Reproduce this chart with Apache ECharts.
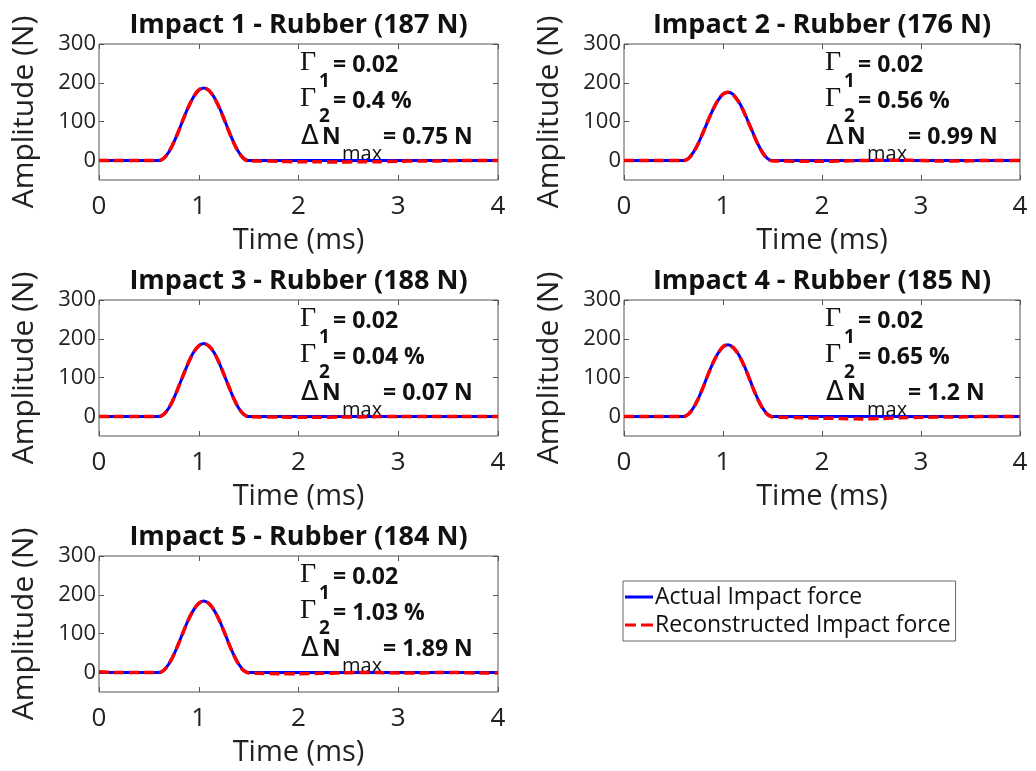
<!DOCTYPE html>
<html>
<head>
<meta charset="utf-8">
<title>Impact force reconstruction - Rubber</title>
<script src="https://cdn.jsdelivr.net/npm/echarts@6/dist/echarts.min.js"></script>
<style>
  html, body { margin: 0; padding: 0; background: #fff; }
  #Chart { width: 1036px; height: 771px; }
</style>
</head>
<body>
<div id="Chart"></div>
<script>
// time axis (ms)
var time = [0, 0.2, 0.4, 0.6, 0.65, 0.7, 0.75, 0.8, 0.85, 0.9, 0.95, 1.0, 1.05, 1.1, 1.15, 1.2, 1.25, 1.3, 1.35, 1.4, 1.45, 1.5,
            1.6, 1.8, 2.0, 2.2, 2.4, 2.6, 2.8, 3.0, 3.2, 3.4, 3.6, 3.8, 4.0];

// amplitudes (N)
var actual1 = [0, 0, 0, 0, 6, 22, 47, 77, 110, 140, 165, 181, 187, 181, 165, 140, 110, 77, 47, 22, 6, 0, 0, 0, 0, 0, 0, 0, 0, 0, 0, 0, 0, 0, 0];
var recon1  = [0, 0, 0, 0, 6, 22, 47, 77, 110, 140, 165, 182, 187, 181, 164, 139, 109, 76, 46, 21, 5, -1, -1, -2, -3, -3, -4, -3, -3, -2, -1, -1, 0, 0, 0];
var actual2 = [0, 0, 0, 0, 5, 21, 44, 73, 103, 132, 155, 171, 176, 171, 155, 132, 103, 73, 44, 21, 5, 0, 0, 0, 0, 0, 0, 0, 0, 0, 0, 0, 0, 0, 0];
var recon2  = [0, 0, 0, 0, 5, 21, 44, 73, 104, 132, 156, 171, 176, 170, 154, 131, 102, 72, 43, 20, 4, -1, -1, -2, -2, -1, 0, 1, 1, 0, -1, -1, 0, 0, 0];
var actual3 = [0, 0, 0, 0, 6, 22, 47, 78, 110, 141, 166, 182, 188, 182, 166, 141, 110, 78, 47, 22, 6, 0, 0, 0, 0, 0, 0, 0, 0, 0, 0, 0, 0, 0, 0];
var recon3  = [0, 0, 0, 0, 6, 22, 47, 78, 110, 141, 166, 182, 188, 182, 166, 141, 110, 78, 47, 22, 6, 0, -1, -1, -2, -2, -1, -1, 0, 0, 0, 0, 0, 0, 0];
var actual4 = [0, 0, 0, 0, 6, 22, 46, 76, 109, 139, 163, 179, 185, 179, 163, 139, 109, 76, 46, 22, 6, 0, 0, 0, 0, 0, 0, 0, 0, 0, 0, 0, 0, 0, 0];
var recon4  = [0, 0, 0, 0, 6, 22, 46, 76, 109, 139, 163, 180, 185, 178, 162, 138, 108, 75, 45, 21, 5, -1, -2, -3, -4, -5, -6, -5, -3, -2, -1, -1, 0, 0, 0];
var actual5 = [0, 0, 0, 0, 6, 22, 46, 76, 108, 138, 162, 178, 184, 178, 162, 138, 108, 76, 46, 22, 6, 0, 0, 0, 0, 0, 0, 0, 0, 0, 0, 0, 0, 0, 0];
var recon5  = [2, 0, 0, 0, 6, 22, 46, 76, 108, 138, 162, 178, 184, 178, 162, 138, 108, 75, 45, 21, 5, -1, -2, -3, -3, -2, -1, 0, 0, -1, -1, 0, 0, -1, -1];

var titles = ['Impact 1 - Rubber (187 N)', 'Impact 2 - Rubber (176 N)', 'Impact 3 - Rubber (188 N)',
              'Impact 4 - Rubber (185 N)', 'Impact 5 - Rubber (184 N)'];
var gamma1 = ['0.02', '0.02', '0.02', '0.02', '0.02'];
var gamma2 = ['0.4 %', '0.56 %', '0.04 %', '0.65 %', '1.03 %'];
var dNmax  = ['0.75 N', '0.99 N', '0.07 N', '1.2 N', '1.89 N'];
var yTicks = [0, 100, 200, 300];

var actual = [actual1, actual2, actual3, actual4, actual5];
var recon = [recon1, recon2, recon3, recon4, recon5];

// panel boxes
var boxes = [
    {left: 99, top: 44, width: 399, height: 136},
    {left: 624, top: 44, width: 396, height: 136},
    {left: 99, top: 300, width: 399, height: 136},
    {left: 624, top: 300, width: 396, height: 136},
    {left: 99, top: 556, width: 399, height: 136}
];

var FONT = 'Open Sans';
var axisColor = '#555';
var txt = '#111';

function pairs(ys) {
    return time.map(function (t, i) { return [t, ys[i]]; });
}

var grid = [], xAxis = [], yAxis = [], series = [], graphic = [];

boxes.forEach(function (b, i) {
    grid.push({left: b.left, top: b.top, width: b.width, height: b.height,
               show: true, borderColor: axisColor, borderWidth: 1, backgroundColor: '#fff'});

    xAxis.push({
        type: 'value', gridIndex: i, min: 0, max: 4, interval: 1, position: 'bottom',
        name: 'Time (ms)', nameLocation: 'middle', nameGap: 46,
        nameTextStyle: {fontFamily: FONT, fontSize: 29, color: '#222'},
        axisLine: {show: false, onZero: false},
        axisTick: {inside: true, length: 5, lineStyle: {color: axisColor}},
        axisLabel: {fontFamily: FONT, fontSize: 26, color: '#222', margin: 14},
        splitLine: {show: false}
    });
    xAxis.push({
        type: 'value', gridIndex: i, min: 0, max: 4, interval: 1, position: 'top',
        axisLine: {show: false, onZero: false},
        axisTick: {inside: true, length: 5, lineStyle: {color: axisColor}},
        axisLabel: {show: false}, splitLine: {show: false}
    });
    yAxis.push({
        type: 'value', gridIndex: i, min: -50, max: 300, position: 'left',
        name: 'Amplitude (N)', nameLocation: 'middle', nameGap: 60,
        nameTextStyle: {fontFamily: FONT, fontSize: 30, color: '#222'},
        axisLine: {show: false, onZero: false},
        axisTick: {inside: true, length: 5, customValues: yTicks, lineStyle: {color: axisColor}},
        axisLabel: {fontFamily: FONT, fontSize: 22, color: '#222', margin: 3, customValues: yTicks},
        splitLine: {show: false}
    });
    yAxis.push({
        type: 'value', gridIndex: i, min: -50, max: 300, position: 'right',
        axisLine: {show: false, onZero: false},
        axisTick: {inside: true, length: 5, customValues: yTicks, lineStyle: {color: axisColor}},
        axisLabel: {show: false}, splitLine: {show: false}
    });

    series.push({
        name: 'Actual Impact force', type: 'line', xAxisIndex: 2 * i, yAxisIndex: 2 * i,
        data: pairs(actual[i]), symbol: 'none', smooth: 0.3,
        lineStyle: {color: '#0000ff', width: 3}, itemStyle: {color: '#0000ff'}
    });
    series.push({
        name: 'Reconstructed Impact force', type: 'line', xAxisIndex: 2 * i, yAxisIndex: 2 * i,
        data: pairs(recon[i]), symbol: 'none', smooth: 0.3,
        lineStyle: {color: '#ff0000', width: 3.5, type: [10, 5]}, itemStyle: {color: '#ff0000'}
    });

    // title
    graphic.push({type: 'text', x: b.left + b.width / 2, y: b.top - 19,
        style: {text: titles[i], font: 'bold 27px "' + FONT + '"', fill: txt, textAlign: 'center', textVerticalAlign: 'middle'}});

    // annotations
    var L = b.left, T = b.top;
    var bold = 'bold 23px "' + FONT + '"';
    var gam = '28px "Liberation Serif"';
    var sub = 'bold 19px "' + FONT + '"';
    graphic.push({type: 'text', x: L + 201, y: T + 19, style: {text: 'Γ', font: gam, fill: txt, textVerticalAlign: 'middle'}});
    graphic.push({type: 'text', x: L + 220, y: T + 38, style: {text: '1', font: sub, fill: txt, textVerticalAlign: 'middle'}});
    graphic.push({type: 'text', x: L + 234, y: T + 21, style: {text: '= ' + gamma1[i], font: bold, fill: txt, textVerticalAlign: 'middle'}});
    graphic.push({type: 'text', x: L + 201, y: T + 55, style: {text: 'Γ', font: gam, fill: txt, textVerticalAlign: 'middle'}});
    graphic.push({type: 'text', x: L + 220, y: T + 73, style: {text: '2', font: sub, fill: txt, textVerticalAlign: 'middle'}});
    graphic.push({type: 'text', x: L + 234, y: T + 57, style: {text: '= ' + gamma2[i], font: bold, fill: txt, textVerticalAlign: 'middle'}});
    graphic.push({type: 'text', x: L + 202, y: T + 93, style: {text: 'Δ', font: '26px "DejaVu Sans"', fill: txt, textVerticalAlign: 'middle'}});
    graphic.push({type: 'text', x: L + 223, y: T + 93, style: {text: 'N', font: bold, fill: txt, textVerticalAlign: 'middle'}});
    graphic.push({type: 'text', x: L + 243, y: T + 110, style: {text: 'max', font: '20px "' + FONT + '"', fill: txt, textVerticalAlign: 'middle'}});
    graphic.push({type: 'text', x: L + 284, y: T + 93, style: {text: '= ' + dNmax[i], font: bold, fill: txt, textVerticalAlign: 'middle'}});
});

var Chart = echarts.init(document.getElementById('Chart'));

var ChartOption = {
    backgroundColor: '#fff',
    animation: false,
    legend: {
        data: [
            {name: 'Actual Impact force', icon: 'path://M0,0h28v3h-28z'},
            {name: 'Reconstructed Impact force', icon: 'path://M0,0h11v3h-11z M16,0h12v3h-12z'}
        ],
        orient: 'vertical', left: 623, top: 581,
        padding: [4, 5, 4, 2], itemGap: 4, itemWidth: 28, itemHeight: 3,
        borderColor: '#666', borderWidth: 1, backgroundColor: '#fff',
        textStyle: {fontFamily: FONT, fontSize: 23, color: txt, lineHeight: 24, padding: [0, 0, 0, -3]}
    },
    grid: grid,
    xAxis: xAxis,
    yAxis: yAxis,
    series: series,
    graphic: graphic
};

Chart.setOption(ChartOption);
window.addEventListener("resize", function () {
    Chart.resize();
});
</script>
</body>
</html>
